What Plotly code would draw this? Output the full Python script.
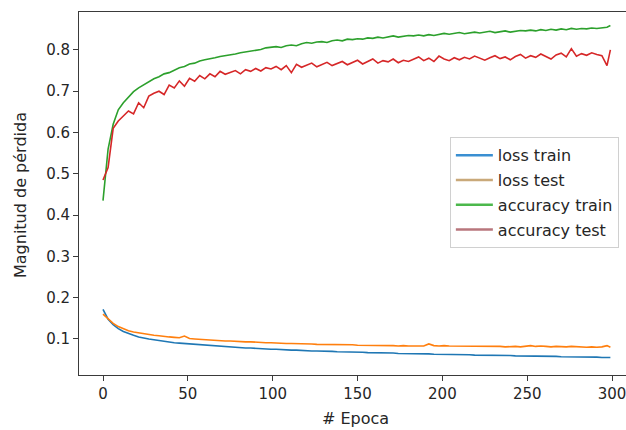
import plotly.graph_objects as go

epochs = list(range(0, 300, 3)) + [299]

acc_train = [0.435, 0.56, 0.62, 0.655, 0.672, 0.685, 0.699, 0.708, 0.716, 0.722,
             0.73, 0.735, 0.742, 0.745, 0.751, 0.757, 0.760, 0.766, 0.768, 0.773,
             0.776, 0.778, 0.781, 0.784, 0.786, 0.787, 0.79, 0.793, 0.795, 0.797,
             0.799, 0.801, 0.805, 0.806, 0.808, 0.806, 0.81, 0.812, 0.81, 0.815,
             0.818, 0.816, 0.819, 0.82, 0.818, 0.822, 0.824, 0.822, 0.826, 0.825,
             0.827, 0.826, 0.829, 0.828, 0.831, 0.829, 0.832, 0.834, 0.831, 0.833,
             0.835, 0.834, 0.836, 0.834, 0.837, 0.835, 0.838, 0.84, 0.838, 0.84,
             0.842, 0.839, 0.841, 0.843, 0.841, 0.843, 0.845, 0.842, 0.844, 0.846,
             0.843, 0.845, 0.847, 0.846, 0.848, 0.846, 0.849, 0.847, 0.85, 0.848,
             0.851, 0.849, 0.852, 0.85, 0.852, 0.851, 0.853, 0.852, 0.854, 0.855,
             0.859]

acc_test = [0.485, 0.515, 0.61, 0.628, 0.64, 0.652, 0.645, 0.672, 0.66, 0.688,
            0.695, 0.70, 0.692, 0.715, 0.708, 0.725, 0.712, 0.731, 0.724, 0.738,
            0.73, 0.742, 0.735, 0.748, 0.741, 0.745, 0.75, 0.742, 0.752, 0.748,
            0.755, 0.749, 0.757, 0.754, 0.76, 0.752, 0.762, 0.745, 0.765, 0.758,
            0.763, 0.768, 0.759, 0.765, 0.77, 0.762, 0.768, 0.772, 0.764, 0.77,
            0.775, 0.766, 0.772, 0.778, 0.768, 0.774, 0.771, 0.778, 0.769, 0.775,
            0.772, 0.778, 0.783, 0.774, 0.78, 0.772, 0.785, 0.778, 0.774, 0.781,
            0.776, 0.782, 0.778, 0.785, 0.779, 0.775, 0.781, 0.786, 0.779, 0.783,
            0.776, 0.784, 0.789, 0.78, 0.786, 0.782, 0.79, 0.784, 0.778, 0.788,
            0.792, 0.783, 0.803, 0.785, 0.791, 0.787, 0.793, 0.789, 0.786, 0.762,
            0.80]

loss_train = [0.172, 0.148, 0.135, 0.125, 0.118, 0.113, 0.109, 0.105, 0.102, 0.100,
              0.098, 0.096, 0.094, 0.093, 0.091, 0.090, 0.089, 0.088, 0.087, 0.086,
              0.085, 0.084, 0.083, 0.082, 0.081, 0.081, 0.080, 0.079, 0.078, 0.078,
              0.077, 0.076, 0.076, 0.075, 0.075, 0.074, 0.074, 0.073, 0.073, 0.072,
              0.072, 0.071, 0.071, 0.071, 0.070, 0.070, 0.069, 0.069, 0.069, 0.068,
              0.068, 0.068, 0.067, 0.067, 0.067, 0.066, 0.066, 0.066, 0.065, 0.065,
              0.065, 0.065, 0.064, 0.064, 0.064, 0.063, 0.063, 0.063, 0.063, 0.062,
              0.062, 0.062, 0.062, 0.061, 0.061, 0.061, 0.061, 0.060, 0.060, 0.060,
              0.060, 0.059, 0.059, 0.059, 0.059, 0.059, 0.058, 0.058, 0.058, 0.058,
              0.057, 0.057, 0.057, 0.057, 0.056, 0.056, 0.056, 0.056, 0.055, 0.055,
              0.055]

loss_test = [0.160, 0.148, 0.138, 0.130, 0.124, 0.120, 0.117, 0.115, 0.112, 0.111,
             0.109, 0.108, 0.106, 0.105, 0.104, 0.103, 0.107, 0.101, 0.100, 0.099,
             0.098, 0.097, 0.097, 0.096, 0.095, 0.095, 0.094, 0.094, 0.093, 0.093,
             0.092, 0.092, 0.091, 0.091, 0.090, 0.090, 0.089, 0.089, 0.089, 0.088,
             0.088, 0.088, 0.087, 0.087, 0.087, 0.087, 0.086, 0.086, 0.086, 0.086,
             0.085, 0.085, 0.085, 0.084, 0.085, 0.084, 0.084, 0.084, 0.083, 0.084,
             0.083, 0.083, 0.084, 0.083, 0.088, 0.084, 0.083, 0.084, 0.083, 0.083,
             0.082, 0.083, 0.083, 0.082, 0.082, 0.083, 0.082, 0.082, 0.082, 0.081,
             0.082, 0.082, 0.081, 0.082, 0.084, 0.082, 0.083, 0.082, 0.081, 0.082,
             0.081, 0.081, 0.082, 0.081, 0.081, 0.080, 0.081, 0.080, 0.081, 0.084,
             0.080]

series_names = ["loss train", "loss test", "accuracy train", "accuracy test"]
series_values = [loss_train, loss_test, acc_train, acc_test]
line_colors = ["#1f77b4", "#ff7f0e", "#2ca02c", "#d62728"]
legend_colors = ["#3a8fd2", "#c9a97a", "#4cb84c", "#b8767c"]

x_ticks = [0, 50, 100, 150, 200, 250, 300]
y_ticks = [0.1, 0.2, 0.3, 0.4, 0.5, 0.6, 0.7, 0.8]

fig = go.Figure()
for name, vals, col in zip(series_names, series_values, line_colors):
    fig.add_trace(go.Scatter(x=epochs, y=vals, mode="lines", name=name,
                             line=dict(color=col, width=1.6), showlegend=False))
for name, col in zip(series_names, legend_colors):
    fig.add_trace(go.Scatter(x=[None], y=[None], mode="lines", name=name,
                             legendgroup=name,
                             line=dict(color=col, width=2.5), showlegend=True))

font_col = "#262626"
axis_col = "#3a3a3a"

fig.update_layout(
    width=626, height=430,
    margin=dict(l=79, r=0, t=12, b=55, pad=0),
    paper_bgcolor="white", plot_bgcolor="white",
    font=dict(family="DejaVu Sans", size=15, color=font_col),
    xaxis=dict(range=[-14.14, 308.2], tickvals=x_ticks, showgrid=False, zeroline=False,
               showline=True, linecolor=axis_col, linewidth=1, mirror=True,
               ticks="outside", ticklen=5, tickcolor=axis_col, tickwidth=1,
               ticklabeloverflow="allow",
               tickfont=dict(size=15, color=font_col)),
    yaxis=dict(range=[0.0128, 0.8918], tickvals=y_ticks, showgrid=False, zeroline=False,
               showline=True, linecolor=axis_col, linewidth=1, mirror=False,
               ticks="outside", ticklen=5, tickcolor=axis_col, tickwidth=1,
               tickfont=dict(size=15, color=font_col)),
    legend=dict(x=0.678, y=0.655, xanchor="left", yanchor="top",
                bgcolor="rgba(255,255,255,0.85)", bordercolor="#d0d0d0", borderwidth=1,
                font=dict(size=16, color=font_col), itemwidth=37, tracegroupgap=1),
    annotations=[
        dict(text="# Epoca", xref="paper", yref="paper", x=(356 - 79) / 547, y=(375 - 418) / 363,
             xanchor="center", yanchor="middle", showarrow=False, font=dict(size=16, color=font_col)),
        dict(text="Magnitud de pérdida", xref="paper", yref="paper", x=(20 - 79) / 547,
             y=(375 - 195) / 363, xanchor="center", yanchor="middle", textangle=-90,
             showarrow=False, font=dict(size=16, color=font_col)),
    ],
)

fig.write_html("out.html")
